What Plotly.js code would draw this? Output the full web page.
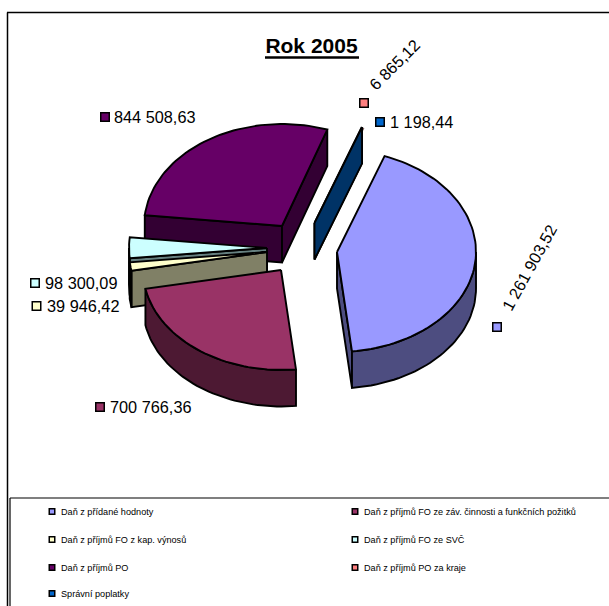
<!DOCTYPE html>
<html>
<head>
<meta charset="utf-8">
<script src="https://cdn.plot.ly/plotly-3.0.1.min.js"></script>
<style>html,body{margin:0;padding:0;background:#fff}#c{width:609px;height:606px}</style>
</head>
<body>
<div id="c"></div>
<script>
// ---- data ----
var categories = ["Daň z přídané hodnoty","Daň z příjmů FO ze záv. činnosti a funkčních požitků","Daň z příjmů FO z kap. výnosů","Daň z příjmů FO ze SVČ","Daň z příjmů PO","Daň z příjmů PO za kraje","Správní poplatky"];
var values = [1261903.52, 700766.36, 39946.42, 98300.09, 844508.63, 6865.12, 1198.44];
var topColors = ["#9999ff","#993366","#ffffcc","#ccffff","#660066","#ff8080","#0066cc"];
var sideColors = ["#4d4d80","#4d1933","#808066","#668080","#330033","#804040","#003366"];
var chartTitle = "Rok 2005";

// ---- layout constants (pixels of the 609x606 page) ----
var FONT = "Liberation Sans, Arial, sans-serif";
var firstAngle = 20, rxRight = 139, rxLeft = 138, ryFront = 100, ryBack = 102, depth = 36.5;
var centers = [[337,252],[281,270],[267,252],[267,248],[282,226],[314.5,223],[314.5,223]];
var paintOrder = [4,5,6,0,3,2,1];
var thinTop = {5:[2.2,1.2],6:[0.5,0.3]};
var valueLabelPos = [
  {mx:497,my:327,tx:529,ty:268,rot:-61},
  {mx:100,my:407,tx:108.5,ty:407,rot:0},
  {mx:36.5,my:306,tx:45.5,ty:306,rot:0},
  {mx:35,my:283,tx:43.5,ty:283,rot:0},
  {mx:105,my:117,tx:113,ty:117,rot:0},
  {mx:364,my:103,tx:394,ty:65,rot:-45},
  {mx:380,my:122,tx:389,ty:122,rot:0}
];
var legendPos = [[52,511.5],[355,511.5],[52,539.5],[355,539.5],[52,567.5],[355,567.5],[52,593.5]];

function fmt(v){
  var p = v.toFixed(2).split(".");
  return p[0].replace(/\B(?=(\d{3})+$)/g," ") + "," + p[1];
}
var total = values.reduce(function(a,b){return a+b;},0);
var angles = [], acc = firstAngle;
values.forEach(function(v){ var a0 = acc; acc += v/total*360; angles.push([a0,acc]); });

function pt(c,t,dz){
  var r = t*Math.PI/180, cs = Math.cos(r), sn = Math.sin(r);
  var ry = cs>0 ? ryBack : ryFront, rx = sn>0 ? rxRight : rxLeft;
  return [c[0]+rx*sn, c[1]-ry*cs+(dz||0)];
}
function poly(pts,color,name,lw){
  var xs = pts.map(function(p){return p[0];}), ys = pts.map(function(p){return p[1];});
  xs.push(xs[0]); ys.push(ys[0]);
  return {type:"scatter",mode:"lines",x:xs,y:ys,fill:"toself",fillcolor:color,
    line:{color:"#000",width:lw||1.9},hoverinfo:"skip",showlegend:false,name:name};
}
function arc(c,a,b,dz){
  var out = [], n = Math.max(2,Math.ceil(Math.abs(b-a)/2));
  for(var i=0;i<=n;i++){ out.push(pt(c,a+(b-a)*i/n,dz)); }
  return out;
}
var traces = [];
paintOrder.forEach(function(k){
  var c = centers[k], t0 = angles[k][0], t1 = angles[k][1], nm = categories[k], side = sideColors[k];
  var cd = [c[0],c[1]+depth];
  var s0 = Math.sin(t0*Math.PI/180), s1 = Math.sin(t1*Math.PI/180);
  var off = thinTop[k], ct = off ? [c[0]+off[0],c[1]+off[1]] : c;
  var top = poly([ct].concat(arc(ct,t0,t1)),topColors[k],nm,off?0.5:0);
  if(off){ traces.push(top); }
  if(s0<0){ traces.push(poly([c,pt(c,t0),pt(c,t0,depth),cd],side,nm)); }
  if(s1>0){ traces.push(poly([c,pt(c,t1),pt(c,t1,depth),cd],side,nm)); }
  var a = Math.max(t0,90), b = Math.min(t1,270);
  if(b>a){ traces.push(poly(arc(c,a,b).concat(arc(c,b,a,depth)),side,nm)); }
  if(!off){ traces.push(top); }
});

// value label markers
traces.push({type:"scatter",mode:"markers",
  x:valueLabelPos.map(function(p){return p.mx;}),y:valueLabelPos.map(function(p){return p.my;}),
  marker:{symbol:"square",size:8.5,color:topColors,line:{color:"#000",width:1.5}},hoverinfo:"skip",showlegend:false});
// legend markers
traces.push({type:"scatter",mode:"markers",
  x:legendPos.map(function(p){return p[0];}),y:legendPos.map(function(p){return p[1];}),
  marker:{symbol:"square",size:5.5,color:topColors,line:{color:"#000",width:1.5}},hoverinfo:"skip",showlegend:false});

var annotations = values.map(function(v,i){
  var p = valueLabelPos[i];
  return {x:p.tx,y:p.ty,xref:"x",yref:"y",text:fmt(v),showarrow:false,textangle:p.rot,
    xanchor:p.rot?"center":"left",yanchor:"middle",borderpad:0,
    font:{family:FONT,size:16.3,color:"#000"}};
}).concat(categories.map(function(name,i){
  return {x:legendPos[i][0]+7.5,y:legendPos[i][1],xref:"x",yref:"y",text:name,showarrow:false,
    xanchor:"left",yanchor:"middle",borderpad:0,font:{family:FONT,size:9.15,color:"#000"}};
}));

var shapes = [
  {type:"line",x0:7.5,x1:7.5,y0:12.5,y1:606,line:{color:"#000",width:1.5}},
  {type:"line",x0:7,x1:609,y0:12.5,y1:12.5,line:{color:"#000",width:1.5}},
  {type:"line",x0:10,x1:10,y0:498,y1:606,line:{color:"#000",width:1.2}},
  {type:"line",x0:10,x1:609,y0:498,y1:498,line:{color:"#000",width:1.2}},
  {type:"line",x0:265,x1:359,y0:57.5,y1:57.5,line:{color:"#000",width:2.5}}
];

var layout = {
  width:609,height:606,margin:{l:0,r:0,t:0,b:0},paper_bgcolor:"#fff",plot_bgcolor:"#fff",
  showlegend:false,
  title:{text:chartTitle,font:{family:FONT,size:21,color:"#000",weight:"bold"},
    x:311.5/609,xanchor:"center",xref:"paper",y:1-45.5/606,yanchor:"middle",yref:"container"},
  xaxis:{range:[0,609],visible:false,fixedrange:true},
  yaxis:{range:[606,0],visible:false,fixedrange:true},
  annotations:annotations,shapes:shapes
};
Plotly.newPlot("c",traces,layout,{displayModeBar:false,staticPlot:true});
</script>
</body>
</html>
